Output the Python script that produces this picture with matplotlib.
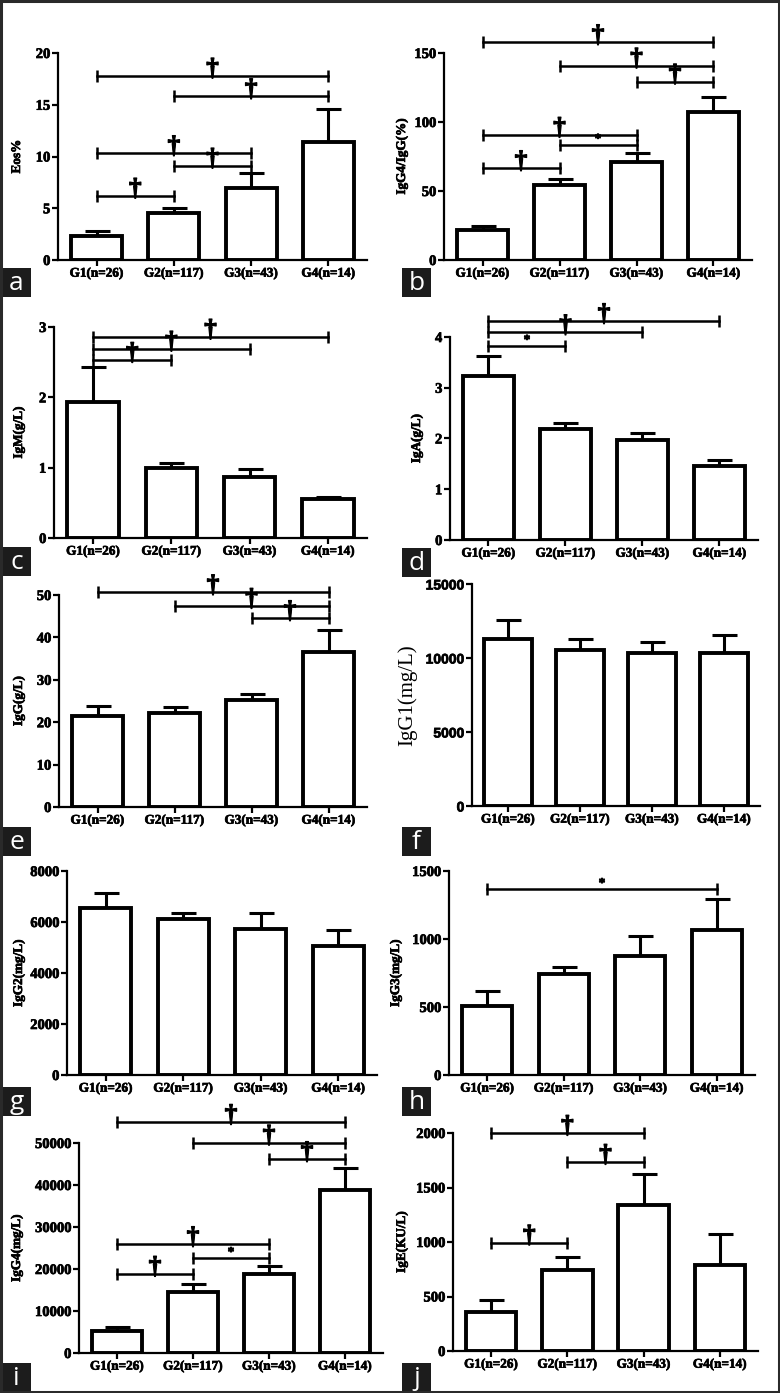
import matplotlib
matplotlib.use('Agg')
import matplotlib.pyplot as plt
import matplotlib.patheffects as pe
from matplotlib.patches import Rectangle

W, H = 780, 1393
DPI = 100

groups = ['G1(n=26)', 'G2(n=117)', 'G3(n=43)', 'G4(n=14)']

# ---- data (means and upper error) ----
eos_mean = [2.3, 4.5, 6.95, 11.4]
eos_err = [0.5, 0.5, 1.45, 3.2]
ratio_mean = [21.7, 54.3, 70.8, 107.5]
ratio_err = [3.2, 4.4, 7.0, 10.4]
igm_mean = [1.93, 0.99, 0.87, 0.55]
igm_err = [0.50, 0.07, 0.11, 0.04]
iga_mean = [3.23, 2.18, 1.98, 1.46]
iga_err = [0.40, 0.13, 0.13, 0.11]
igg_mean = [21.4, 22.2, 25.2, 36.5]
igg_err = [2.4, 1.3, 1.4, 5.2]
igg1_mean = [11300, 10550, 10370, 10370]
igg1_err = [1240, 750, 700, 1200]
igg2_mean = [6530, 6100, 5710, 5060]
igg2_err = [590, 260, 630, 630]
igg3_mean = [510, 740, 875, 1066]
igg3_err = [110, 57, 149, 226]
igg4_mean = [5130, 14620, 18740, 38920]
igg4_err = [1040, 1830, 2050, 5130]
ige_mean = [359, 743, 1335, 789]
ige_err = [108, 122, 288, 285]

# significance brackets: (group i, group j, height, symbol)
eos_sig = [(0, 3, 17.8, '†'), (1, 3, 15.8, '†'), (0, 2, 10.3, '†'), (1, 2, 9.1, '†'), (0, 1, 6.2, '†')]
ratio_sig = [(0, 3, 157.7, '†'), (1, 3, 140.8, '†'), (2, 3, 129.2, '†'), (0, 2, 90.6, '†'), (1, 2, 83.3, '*'), (0, 1, 66.4, '†')]
igm_sig = [(0, 3, 2.86, '†'), (0, 2, 2.69, '†'), (0, 1, 2.53, '†')]
iga_sig = [(0, 3, 4.31, '†'), (0, 2, 4.09, '†'), (0, 1, 3.82, '*')]
igg_sig = [(0, 3, 50.6, '†'), (1, 3, 47.4, '†'), (2, 3, 44.5, '†')]
igg1_sig = []
igg2_sig = []
igg3_sig = [(0, 3, 1365, '*')]
igg4_sig = [(0, 3, 54970, '†'), (1, 3, 50070, '†'), (2, 3, 46110, '†'), (0, 2, 25870, '†'), (1, 2, 22540, '*'), (0, 1, 18820, '†')]
ige_sig = [(0, 2, 2000, '†'), (1, 2, 1734, '†'), (0, 1, 994, '†')]

ylabels = ['Eos%', 'IgG4/IgG(%)', 'IgM(g/L)', 'IgA(g/L)', 'IgG(g/L)', 'IgG1(mg/L)',
           'IgG2(mg/L)', 'IgG3(mg/L)', 'IgG4(mg/L)', 'IgE(KU/L)']
yticks = [[0, 5, 10, 15, 20], [0, 50, 100, 150], [0, 1, 2, 3], [0, 1, 2, 3, 4],
          [0, 10, 20, 30, 40, 50], [0, 5000, 10000, 15000], [0, 2000, 4000, 6000, 8000],
          [0, 500, 1000, 1500], [0, 10000, 20000, 30000, 40000, 50000], [0, 500, 1000, 1500, 2000]]
letters = ['a', 'b', 'c', 'd', 'e', 'f', 'g', 'h', 'i', 'j']

panels = [
    (eos_mean, eos_err, eos_sig), (ratio_mean, ratio_err, ratio_sig),
    (igm_mean, igm_err, igm_sig), (iga_mean, iga_err, iga_sig),
    (igg_mean, igg_err, igg_sig), (igg1_mean, igg1_err, igg1_sig),
    (igg2_mean, igg2_err, igg2_sig), (igg3_mean, igg3_err, igg3_sig),
    (igg4_mean, igg4_err, igg4_sig), (ige_mean, ige_err, ige_sig),
]

# ---- layout in pixels: left, right, top (y max), bottom (y=0), ylabel x ----
layout = [
    (58, 367, 53, 260, 23), (444, 752, 53, 260, 408),
    (54, 367, 327, 538, 25), (450, 758, 337, 540, 423),
    (59, 367, 595, 807, 25), (472, 760, 584, 806, 417),
    (67, 377, 871, 1075, 25), (449, 755, 871, 1075, 402),
    (79, 383, 1143, 1353, 23), (453, 758, 1133, 1351, 408),
]
# letter boxes: x, y_top (pixels)
boxes = [(2, 268), (402, 268), (2, 547), (402, 548), (2, 827), (402, 827),
         (2, 1087), (402, 1087), (2, 1363), (402, 1363)]
BOX = 29

SERIF = 'Liberation Serif'
bolden = [pe.withStroke(linewidth=0.5, foreground='black')]
dag_fx = [pe.withStroke(linewidth=0.9, foreground='black')]
star_fx = [pe.withStroke(linewidth=0.6, foreground='black')]

fig = plt.figure(figsize=(W / DPI, H / DPI), dpi=DPI)
fig.patch.set_facecolor('white')

for k, ((mean, err, sig), (l, r, t, b, lx)) in enumerate(zip(panels, layout)):
    ax = fig.add_axes([l / W, 1 - b / H, (r - l) / W, (b - t) / H])
    x = list(range(len(groups)))
    ax.bar(x, mean, width=0.66, color='white', edgecolor='black', linewidth=2.8, zorder=2)
    ax.errorbar(x, mean, yerr=[[0] * 4, err], fmt='none', ecolor='black',
                elinewidth=2.2, capsize=9, capthick=2.2, zorder=1)
    ax.set_xlim(-0.5, 3.5)
    ax.set_ylim(yticks[k][0], yticks[k][-1])
    ax.set_yticks(yticks[k])
    ax.set_xticks(x)
    ax.set_xticklabels(groups)
    for s in ['top', 'right']:
        ax.spines[s].set_visible(False)
    for s in ['left', 'bottom']:
        ax.spines[s].set_linewidth(1.6)
    ax.tick_params(axis='both', direction='out', length=4, width=1.6, pad=1.5)
    for lab in ax.get_xticklabels():
        lab.set_fontfamily(SERIF)
        lab.set_fontweight('bold')
        lab.set_fontsize(9.5)
        lab.set_path_effects(bolden)
    for lab in ax.get_yticklabels():
        if letters[k] == 'f':
            lab.set_fontfamily('Liberation Sans')
            lab.set_fontsize(10)
        else:
            lab.set_fontfamily(SERIF)
            lab.set_fontsize(10.5)
        lab.set_fontweight('bold')
        lab.set_path_effects(bolden)
    if letters[k] == 'f':
        ax.set_ylabel(ylabels[k], fontfamily=SERIF, fontsize=15)
    else:
        ax.set_ylabel(ylabels[k], fontfamily=SERIF, fontweight='bold', fontsize=9.5,
                      path_effects=bolden)
    ax.yaxis.set_label_coords((lx - l) / (r - l), 0.5)

    for (i, j, yv, sym) in sig:
        ax.plot([i, j], [yv, yv], color='black', lw=1.8, marker='|', markersize=9,
                mew=1.8, clip_on=False, zorder=3)
        xm = (i + j) / 2
        if sym == '*':
            ax.annotate(sym, xy=(xm, yv), xytext=(0, 4), textcoords='offset points',
                        ha='center', va='center', fontsize=9.5, fontweight='bold',
                        fontfamily=SERIF, annotation_clip=False, path_effects=star_fx)
        else:
            ax.annotate(sym, xy=(xm, yv), xytext=(0, 5), textcoords='offset points',
                        ha='center', va='center', fontsize=18, fontweight='bold',
                        fontfamily=SERIF, annotation_clip=False, path_effects=dag_fx)

# letter boxes
for (bx, by), letter in zip(boxes, letters):
    fig.patches.append(Rectangle((bx / W, 1 - (by + BOX) / H), BOX / W, BOX / H,
                                 transform=fig.transFigure, facecolor='#1c1c1c',
                                 edgecolor='none', zorder=5))
    fig.text((bx + BOX / 2) / W, 1 - (by + BOX / 2 + 1) / H, letter, color='white',
             ha='center', va='center', fontsize=19, fontfamily='Open Sans', zorder=6)

# outer frame
fig.patches.append(Rectangle((0.001, 0.0008), 0.998, 0.9985, transform=fig.transFigure,
                             facecolor='none', edgecolor='#2a2a2a', linewidth=2.2, zorder=7))

fig.savefig('out.png', dpi=DPI)
